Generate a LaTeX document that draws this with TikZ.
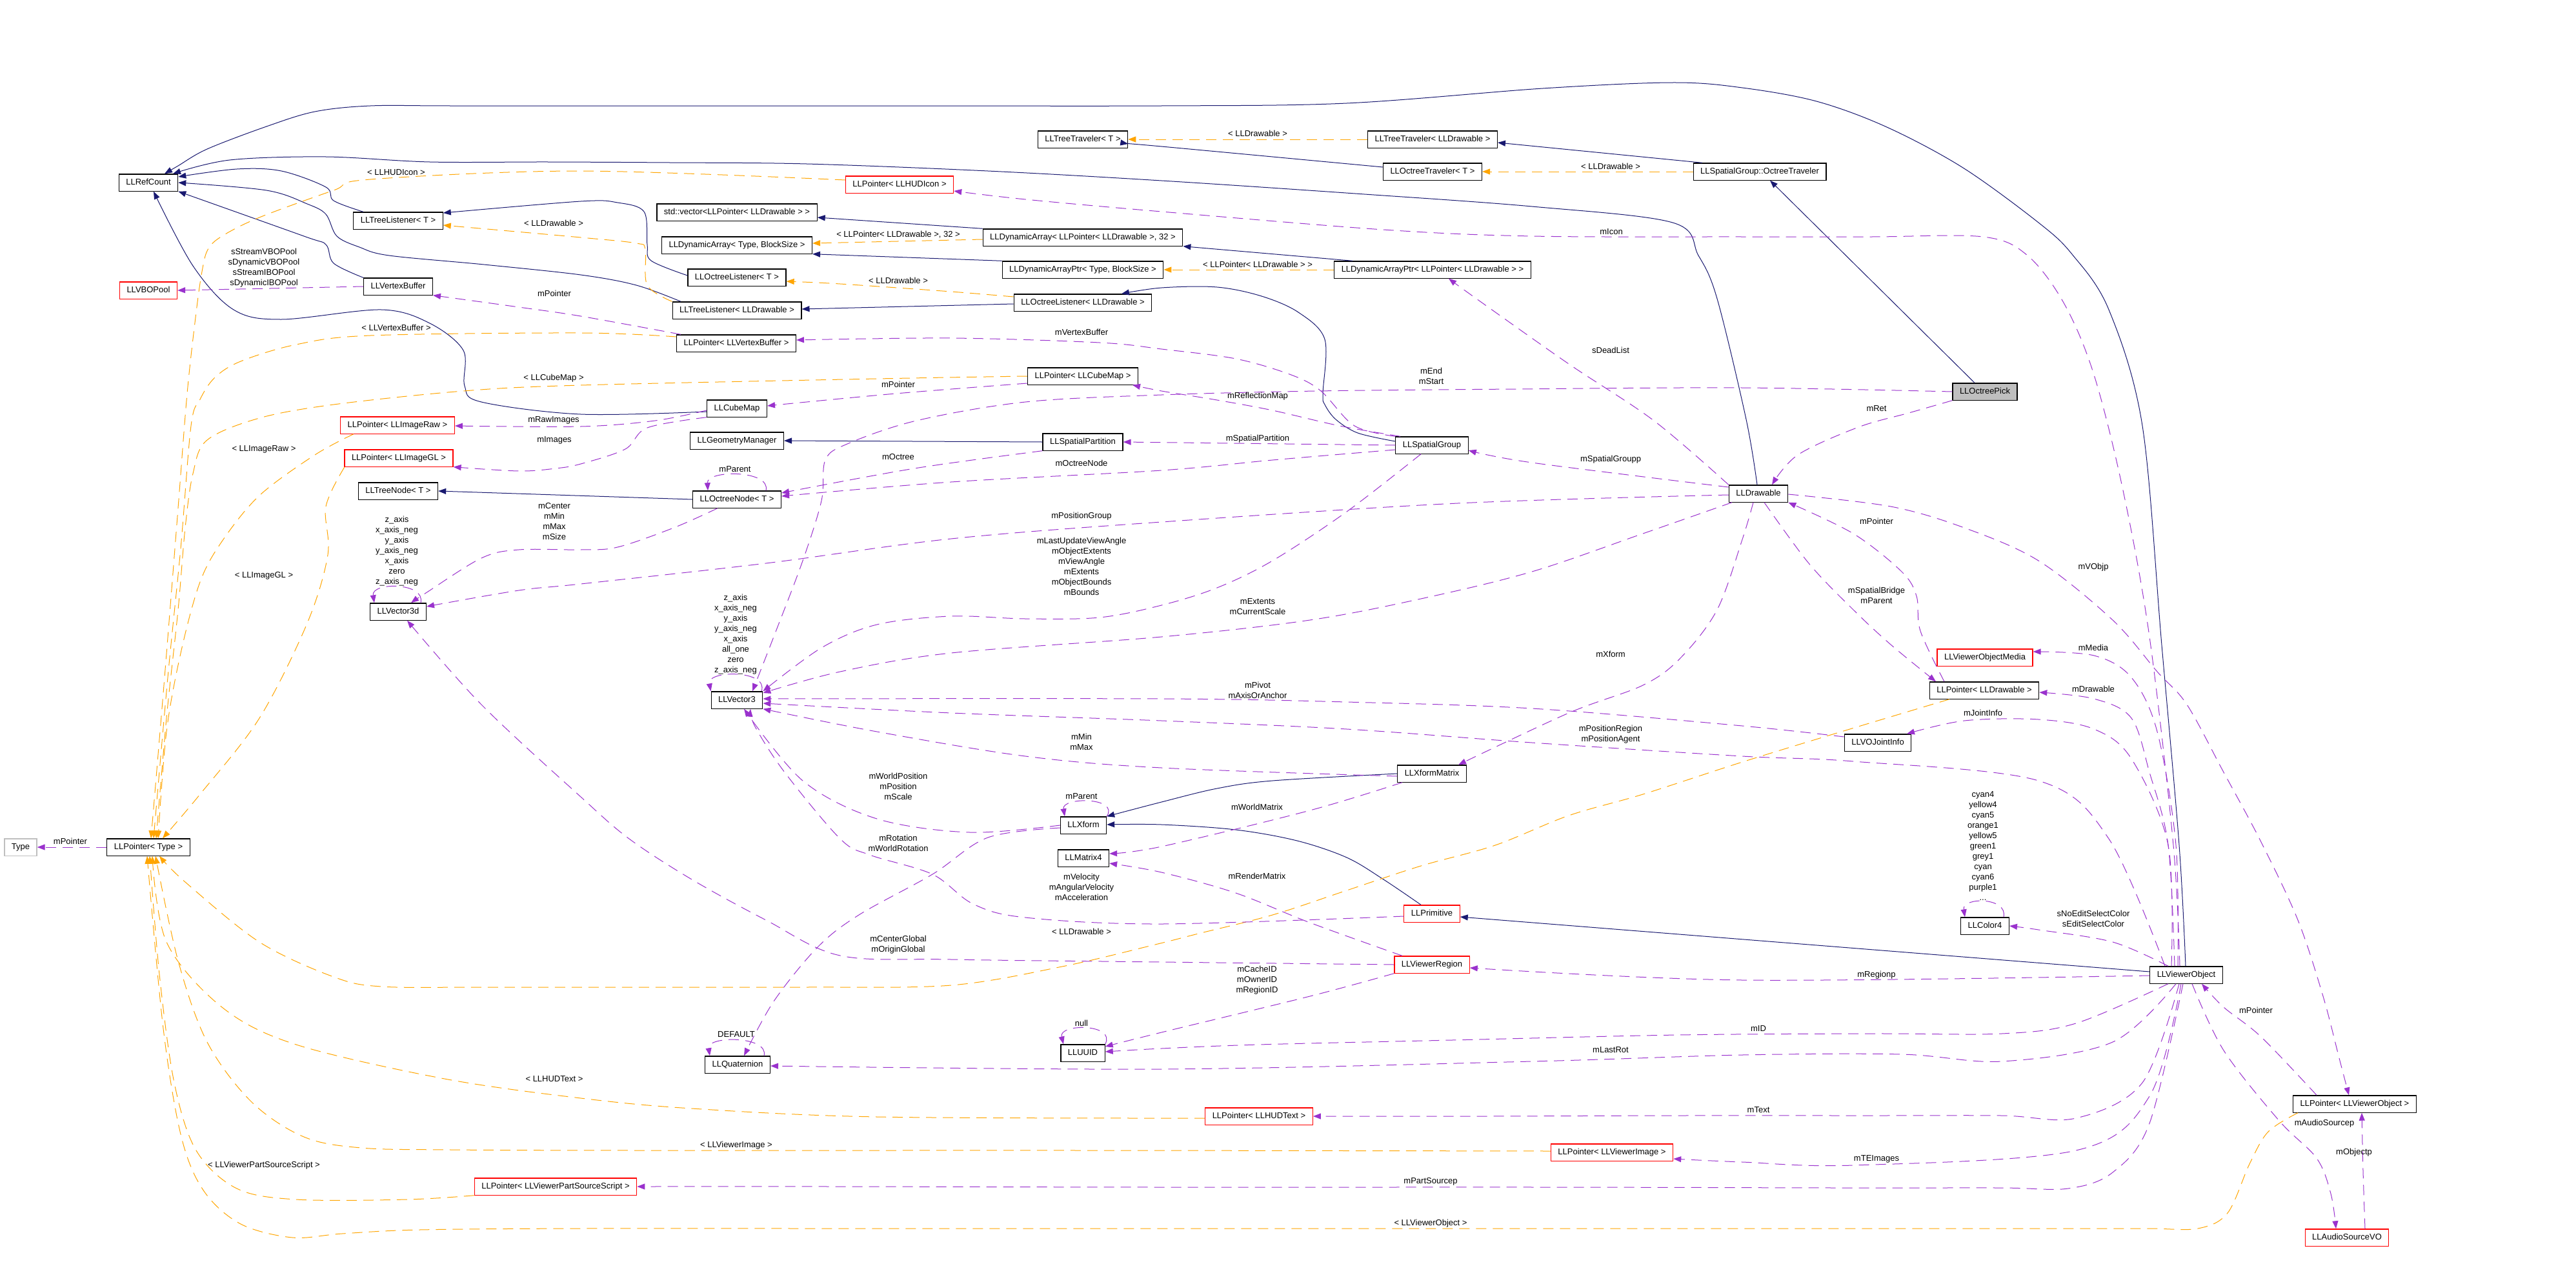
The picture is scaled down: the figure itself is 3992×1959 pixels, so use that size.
\documentclass[tikz,border=0pt]{standalone}
\usepackage{fontspec}
\setmainfont{Liberation Sans}
\usetikzlibrary{arrows.meta}

\definecolor{inhblue}{HTML}{191970}
\definecolor{usepurple}{HTML}{9A32CD}
\definecolor{tmplorange}{HTML}{FFA500}
\definecolor{undocred}{HTML}{FF0000}
\definecolor{focusgray}{HTML}{BFBFBF}

\begin{document}
\begin{tikzpicture}[
  x=1pt, y=-1pt,
  every node/.style={font=\fontsize{13}{16}\selectfont},
  cls/.style={draw=black, line width=1.2pt, inner xsep=11pt, inner ysep=7pt, text height=9.4pt, text depth=2.8pt},
  clsred/.style={cls, draw=undocred},
  clsgray/.style={cls, draw=focusgray},
  clsfocus/.style={cls, fill=focusgray},
  lbl/.style={align=center, inner sep=0pt},
  inh/.style={draw=inhblue, line width=1pt, -{Triangle[length=12pt,width=9pt]}, smooth, tension=0.55},
  use/.style={draw=usepurple, line width=1pt, dash pattern=on 16pt off 10pt, -{Triangle[length=12pt,width=9pt]}, smooth, tension=0.55},
  tmpl/.style={use, draw=tmplorange},
]
\useasboundingbox (0,0) rectangle (3992,1959);

% classes, column by column
\node[clsgray] (type) at (32,1313) {Type};
\node[cls] (refcount) at (230,283) {LLRefCount};
\node[clsred] (vbopool) at (230,450) {LLVBOPool};
\node[cls] (ptrtype) at (230,1313) {LLPointer< Type >};

\node[cls] (treelistenerT) at (617,342) {LLTreeListener< T >};
\node[cls] (vertexbuffer) at (617,444) {LLVertexBuffer};
\node[clsred] (ptrimageraw) at (616,659) {LLPointer< LLImageRaw >};
\node[clsred] (ptrimagegl) at (618,710) {LLPointer< LLImageGL >};
\node[cls] (treenodeT) at (617,761) {LLTreeNode< T >};
\node[cls] (vector3d) at (617,948) {LLVector3d};
\node[clsred] (ptrviewerpss) at (861,1839) {LLPointer< LLViewerPartSourceScript >};

\node[clsred] (ptrhudicon) at (1394,286) {LLPointer< LLHUDIcon >};
\node[cls] (stdvector) at (1142,329) {std::vector<LLPointer< LLDrawable > >};
\node[cls] (dynarrayT) at (1142,380) {LLDynamicArray< Type, BlockSize >};
\node[cls] (octlistenerT) at (1142,430) {LLOctreeListener< T >};
\node[cls] (treelistenerdrw) at (1142,481) {LLTreeListener< LLDrawable >};
\node[cls] (ptrvertexbuffer) at (1141,532) {LLPointer< LLVertexBuffer >};
\node[cls] (cubemap) at (1142,633) {LLCubeMap};
\node[cls] (geommgr) at (1142,683) {LLGeometryManager};
\node[cls] (octnodeT) at (1142,774) {LLOctreeNode< T >};
\node[cls] (vector3) at (1142,1085) {LLVector3};
\node[cls] (quaternion) at (1143,1650) {LLQuaternion};

\node[cls] (treetravT) at (1678,216) {LLTreeTraveler< T >};
\node[cls] (dynarraydrw) at (1678,368) {LLDynamicArray< LLPointer< LLDrawable >, 32 >};
\node[cls] (dynarrayptrT) at (1678,418) {LLDynamicArrayPtr< Type, BlockSize >};
\node[cls] (octlistenerdrw) at (1678,469) {LLOctreeListener< LLDrawable >};
\node[cls] (ptrcubemap) at (1678,583) {LLPointer< LLCubeMap >};
\node[cls] (spatialpartition) at (1678,685) {LLSpatialPartition};
\node[cls] (xform) at (1679,1279) {LLXform};
\node[cls] (matrix4) at (1679,1330) {LLMatrix4};
\node[cls] (uuid) at (1678,1632) {LLUUID};
\node[clsred] (ptrhudtext) at (1951,1730) {LLPointer< LLHUDText >};

\node[cls] (treetravdrw) at (2220,216) {LLTreeTraveler< LLDrawable >};
\node[cls] (octtravT) at (2220,266) {LLOctreeTraveler< T >};
\node[cls] (dynarrayptrdrw) at (2220,418) {LLDynamicArrayPtr< LLPointer< LLDrawable > >};
\node[cls] (spatialgroup) at (2219,690) {LLSpatialGroup};
\node[cls] (xformmatrix) at (2219,1199) {LLXformMatrix};
\node[clsred] (primitive) at (2219,1416) {LLPrimitive};
\node[clsred] (viewerregion) at (2219,1495) {LLViewerRegion};
\node[clsred] (ptrviewerimage) at (2498,1786) {LLPointer< LLViewerImage >};

\node[cls] (sgocttrav) at (2727,266) {LLSpatialGroup::OctreeTraveler};
\node[cls] (drawable) at (2725,765) {LLDrawable};
\node[cls] (vojointinfo) at (2910,1151) {LLVOJointInfo};
\node[clsfocus] (octreepick) at (3076,607) {LLOctreePick};
\node[clsred] (viewerobjmedia) at (3076,1019) {LLViewerObjectMedia};
\node[cls] (ptrdrawable) at (3075,1070) {LLPointer< LLDrawable >};
\node[cls] (color4) at (3076,1435) {LLColor4};
\node[cls] (viewerobject) at (3388,1511) {LLViewerObject};
\node[cls] (ptrviewerobject) at (3649,1711) {LLPointer< LLViewerObject >};
\node[clsred] (audiosourcevo) at (3637,1918) {LLAudioSourceVO};

% inheritance
\draw[inh] plot coordinates {(3387,0 |- viewerobject.north) (3377,1310) (3350,1000) (3320,660) (3268,480) (3211,394) (3159,345) (3042,260) (2924,197) (2815,157) (2700,136) (2592,128) (2391,137) (2087,160) (1800,164) (1400,164) (1000,164) (700,164) (574,164) (488,173) (413,196) (321,231) (276,257) (255,0 |- refcount.north)};
\draw[inh] plot coordinates {(2723,0 |- drawable.north) (2706,650) (2661,463) (2632,396) (2592,345) (2374,320) (2100,300) (1800,280) (1531,265) (1250,254) (1038,252) (850,251) (666,251) (505,243) (356,248) (268,0 |- refcount.north)};
\draw[inh] plot coordinates {(563,0 |- treelistenerT.north) (517,311) (505,290) (436,265) (367,262) (refcount.east |- 0,274)};
\draw[inh] plot coordinates {(1055,0 |- treelistenerdrw.north) (986,442) (900,426) (750,410) (603,396) (557,383) (522,366) (505,332) (476,316) (413,295) (refcount.east)};
\draw[inh] plot coordinates {(vertexbuffer.north west) (517,408) (505,379) (471,366) (refcount.south east)};
\draw[inh] plot coordinates {(cubemap.west |- 0,638) (900,642) (746,623) (720,598) (718,543) (666,501) (591,480) (436,495) (362,480) (299,412) (238,0 |- refcount.south)};
\draw[inh] plot coordinates {(octlistenerT.west |- 0,427) (1009,404) (1003,379) (998,328) (957,314) (900,312) (treelistenerT.east |- 0,330)};
\draw[inh] (octlistenerdrw.west |- 0,471) -- (treelistenerdrw.east |- 0,479);
\draw[inh] plot coordinates {(spatialgroup.west |- 0,684) (2104,671) (2070,650) (2053,627) (2050,610) (2053,526) (2012,484) (1955,459) (1886,445) (1800,446) (1738,0 |- octlistenerdrw.north)};
\draw[inh] (dynarraydrw.north west) -- (stdvector.east |- 0,337);
\draw[inh] (dynarrayptrT.north west) -- (dynarrayT.south east);
\draw[inh] (2096,0 |- dynarrayptrdrw.north) -- (dynarraydrw.south east);
\draw[inh] plot coordinates {(octtravT.west |- 0,259) (1800,227) (treetravT.east |- 0,223)};
\draw[inh] (2638,0 |- sgocttrav.north) -- (treetravdrw.east |- 0,221);
\draw[inh] (3060,0 |- octreepick.north) -- (2743,0 |- sgocttrav.south);
\draw[inh] (spatialpartition.west) -- (geommgr.east);
\draw[inh] (octnodeT.west) -- (treenodeT.east);
\draw[inh] plot coordinates {(xformmatrix.west) (1972,1210) (1886,1222) (1800,1243) (xform.north east)};
\draw[inh] plot coordinates {(2202,0 |- primitive.north) (2144,1363) (2087,1329) (2010,1303) (1915,1286) (1800,1278) (xform.east |- 0,1278)};
\draw[inh] (viewerobject.west |- 0,1506) -- (primitive.east |- 0,1421);

% template instances
\draw[tmpl] plot coordinates {(ptrhudicon.west |- 0,279) (900,265) (574,278) (517,295) (402,337) (344,366) (322,387) (313,421) (304,484) (290,610) (275,800) (255,1050) (234,0 |- ptrtype.north)};
\draw[tmpl] plot coordinates {(ptrvertexbuffer.west |- 0,522) (900,516) (574,520) (459,534) (373,560) (333,585) (310,619) (296,660) (280,850) (260,1050) (238,0 |- ptrtype.north)};
\draw[tmpl] plot coordinates {(ptrcubemap.west |- 0,583) (1359,587) (900,597) (718,606) (517,627) (402,648) (321,682) (299,734) (287,818) (276,945) (258,1113) (242,0 |- ptrtype.north)};
\draw[tmpl] plot coordinates {(548,0 |- ptrimageraw.south) (488,705) (402,768) (344,839) (310,902) (281,1008) (258,1134) (245,0 |- ptrtype.north)};
\draw[tmpl] plot coordinates {(534,0 |- ptrimagegl.south) (505,785) (508,860) (476,966) (402,1113) (310,1231) (252,0 |- ptrtype.north)};
\draw[tmpl] plot coordinates {(3021,0 |- ptrdrawable.south) (2860,1132) (2700,1181) (2546,1231) (2431,1264) (2317,1310) (2202,1342) (2087,1380) (1972,1418) (1857,1447) (1790,1464) (1646,1498) (1474,1527) (1250,1530) (1000,1530) (750,1530) (591,1529) (517,1514) (402,1460) (287,1367) (247,0 |- ptrtype.south)};
\draw[tmpl] plot coordinates {(ptrhudtext.west |- 0,1733) (1359,1731) (1072,1718) (900,1702) (689,1672) (459,1619) (344,1561) (258,1460) (236,0 |- ptrtype.south)};
\draw[tmpl] plot coordinates {(ptrviewerimage.west |- 0,1784) (1700,1783) (1000,1783) (700,1782) (560,1779) (471,1762) (390,1708) (321,1615) (276,1489) (241,0 |- ptrtype.south)};
\draw[tmpl] plot coordinates {(ptrviewerpss.south west) (631,1859) (459,1859) (367,1842) (304,1783) (270,1678) (247,1510) (232,0 |- ptrtype.south)};
\draw[tmpl] plot coordinates {(3561,0 |- ptrviewerobject.south) (3515,1754) (3486,1804) (3452,1880) (3406,1904) (3330,1904) (3200,1904) (2950,1904) (2500,1904) (1900,1904) (1300,1904) (900,1904) (650,1906) (530,1912) (453,1918) (373,1897) (316,1846) (281,1762) (253,1594) (228,0 |- ptrtype.south)};
\draw[tmpl] plot coordinates {(treelistenerdrw.north west) (1003,442) (1000,387) (986,377) (900,368) (treelistenerT.east |- 0,349)};
\draw[tmpl] (dynarraydrw.west |- 0,371) -- (dynarrayT.east |- 0,377);
\draw[tmpl] plot coordinates {(octlistenerdrw.west |- 0,460) (1474,452) (1302,440) (octlistenerT.east |- 0,436)};
\draw[tmpl] (treetravdrw.west) -- (treetravT.east);
\draw[tmpl] (sgocttrav.west) -- (octtravT.east);
\draw[tmpl] (dynarrayptrdrw.west) -- (dynarrayptrT.east);

% members
\draw[use] (ptrtype.west) -- (type.east);
\draw[use] (vertexbuffer.west) -- (vbopool.east);
\draw[use] plot coordinates {(1055,0 |- ptrvertexbuffer.north) (900,490) (804,476) (vertexbuffer.south east)};
\draw[use] plot coordinates {(ptrcubemap.west |- 0,594) (1388,610) (cubemap.east |- 0,629)};
\draw[use] plot coordinates {(3378,0 |- viewerobject.north) (3368,1310) (3331,987) (3290,760) (3245,581) (3199,471) (3142,396) (3073,367) (2900,367) (2700,367) (2374,366) (2144,356) (1800,328) (1589,309) (ptrhudicon.east |- 0,296)};
\draw[use] plot coordinates {(spatialgroup.north west) (2099,660) (2047,606) (2001,581) (1915,556) (1800,541) (1704,531) (1474,524) (ptrvertexbuffer.east |- 0,527)};
\draw[use] plot coordinates {(2170,0 |- spatialgroup.north) (2076,660) (1972,636) (1886,620) (1800,606) (1755,0 |- ptrcubemap.south)};
\draw[use] plot coordinates {(octreepick.west) (2700,601) (2350,603) (2041,606) (1800,612) (1589,623) (1420,652) (1313,688) (1279,713) (1273,776) (1244,869) (1199,987) (1166,0 |- vector3.north)};
\draw[use] plot coordinates {(cubemap.west |- 0,636) (1015,652) (900,661) (ptrimageraw.east |- 0,660)};
\draw[use] plot coordinates {(cubemap.south west) (1003,663) (969,696) (900,719) (861,726) (804,730) (ptrimagegl.south east)};
\draw[use] plot coordinates {(drawable.north west) (2563,652) (2431,564) (2288,463) (2245,0 |- dynarrayptrdrw.south)};
\draw[use] (spatialgroup.west) -- (spatialpartition.east);
\draw[use] plot coordinates {(spatialgroup.west |- 0,697) (1972,713) (1800,729) (1474,747) (octnodeT.east |- 0,769)};
\draw[use] plot coordinates {(spatialpartition.south west) (1417,726) (octnodeT.east |- 0,764)};
\draw[use] plot coordinates {(1112,0 |- octnodeT.south) (1044,818) (957,848) (900,852) (804,852) (746,865) (660,919) (637,0 |- vector3d.north)};
\draw[use] plot coordinates {(drawable.west |- 0,755) (2374,717) (spatialgroup.east |- 0,698)};
\draw[use] plot coordinates {(drawable.west |- 0,767) (2259,780) (1800,809) (1474,835) (1187,873) (900,905) (804,915) (vector3d.east |- 0,940)};
\draw[use] plot coordinates {(2202,0 |- spatialgroup.south) (2087,793) (1972,869) (1886,911) (1800,938) (1704,957) (1589,959) (1474,955) (1359,968) (1273,1004) (vector3.north east)};
\draw[use] plot coordinates {(2684,0 |- drawable.south) (2546,827) (2374,886) (2202,928) (2030,961) (1800,987) (1474,1012) (1302,1041) (vector3.east |- 0,1074)};
\draw[use] plot coordinates {(vojointinfo.west |- 0,1142) (2700,1125) (2374,1098) (2087,1088) (1800,1083) (vector3.east |- 0,1083)};
\draw[use] plot coordinates {(3355,0 |- viewerobject.north) (3268,1300) (3159,1210) (2872,1180) (2700,1172) (2374,1151) (2087,1130) (1800,1117) (1474,1105) (vector3.east |- 0,1090)};
\draw[use] plot coordinates {(xformmatrix.west |- 0,1203) (1800,1190) (1589,1172) (1359,1134) (vector3.south east)};
\draw[use] plot coordinates {(xform.west) (1503,1290) (1359,1269) (1244,1210) (1153,0 |- vector3.south)};
\draw[use] plot coordinates {(xform.west |- 0,1283) (1531,1298) (1445,1355) (1331,1418) (1267,1468) (1199,1552) (1153,0 |- quaternion.north)};
\draw[use] plot coordinates {(primitive.west |- 0,1420) (1800,1432) (1589,1422) (1508,1401) (1445,1355) (1348,1325) (1302,1300) (1216,1197) (1170,1126) (1163,0 |- vector3.south)};
\draw[use] plot coordinates {(viewerregion.west) (1800,1491) (1474,1487) (1302,1481) (1187,1426) (1072,1363) (975,1300) (900,1235) (746,1092) (631,0 |- vector3d.south)};
\draw[use] plot coordinates {(2173,0 |- xformmatrix.south) (2030,1256) (1800,1312) (matrix4.east |- 0,1323)};
\draw[use] plot coordinates {(2173,0 |- viewerregion.north) (2030,1430) (1915,1384) (1800,1352) (matrix4.east |- 0,1338)};
\draw[use] plot coordinates {(viewerregion.south west) (2030,1544) (1800,1600) (uuid.east |- 0,1622)};
\draw[use] plot coordinates {(3360,0 |- viewerobject.south) (3217,1586) (3102,1602) (2900,1602) (2600,1604) (2250,1612) (1950,1619) (1800,1625) (uuid.east |- 0,1630)};
\draw[use] plot coordinates {(3372,0 |- viewerobject.south) (3274,1615) (3102,1645) (2947,1634) (2700,1635) (2374,1645) (1800,1657) (quaternion.east |- 0,1652)};
\draw[use] plot coordinates {(viewerobject.west |- 0,1512) (2700,1519) (viewerregion.east |- 0,1500)};
\draw[use] plot coordinates {(3360,0 |- viewerobject.north) (3274,1460) (3159,1441) (color4.east)};
\draw[use] plot coordinates {(3377,0 |- viewerobject.south) (3320,1678) (3217,1733) (3102,1729) (2900,1729) (2600,1729) (2300,1730) (ptrhudtext.east)};
\draw[use] plot coordinates {(3380,0 |- viewerobject.south) (3331,1699) (3217,1783) (2872,1806) (2700,1801) (ptrviewerimage.east |- 0,1796)};
\draw[use] plot coordinates {(3383,0 |- viewerobject.south) (3331,1741) (3274,1817) (3205,1842) (3100,1841) (2850,1841) (2400,1840) (1800,1840) (1300,1839) (ptrviewerpss.east)};
\draw[use] plot coordinates {(3370,0 |- viewerobject.north) (3360,1310) (3331,1197) (3303,1113) (3245,1083) (ptrdrawable.east |- 0,1073)};
\draw[use] plot coordinates {(3375,0 |- viewerobject.north) (3372,1310) (3343,1134) (3303,1050) (3245,1016) (viewerobjmedia.east |- 0,1010)};
\draw[use] plot coordinates {(3365,0 |- viewerobject.north) (3360,1310) (3303,1176) (3245,1130) (3159,1115) (3044,1117) (2955,0 |- vojointinfo.north)};
\draw[use] plot coordinates {(3013,0 |- ptrdrawable.north) (2976,978) (2970,924) (2947,886) (2872,827) (drawable.south east)};
\draw[use] plot coordinates {(2734,0 |- drawable.south) (2803,873) (2872,945) (2930,999) (3000,0 |- ptrdrawable.north)};
\draw[use] plot coordinates {(2717,0 |- drawable.south) (2700,836) (2661,945) (2604,1020) (2546,1062) (2431,1105) (2260,0 |- xformmatrix.north)};
\draw[use] plot coordinates {(drawable.east |- 0,766) (2930,785) (3044,818) (3159,869) (3274,961) (3343,1041) (3389,1092) (3446,1197) (3504,1305) (3561,1426) (3600,1544) (3625,1640) (3640,0 |- ptrviewerobject.north)};
\draw[use] plot coordinates {(3590,0 |- ptrviewerobject.north) (3504,1607) (3446,1561) (3412,0 |- viewerobject.south)};
\draw[use] plot coordinates {(3397,0 |- viewerobject.south) (3446,1628) (3532,1737) (3590,1795) (3612,1850) (3620,0 |- audiosourcevo.north)};
\draw[use] plot coordinates {(3665,0 |- audiosourcevo.north) (3662,1815) (3660,0 |- ptrviewerobject.south)};
\draw[use] plot coordinates {(octreepick.south west) (2958,640) (2880,662) (2786,705) (2746,0 |- drawable.north)};

% self references
\draw[use] (1187,0 |- octnodeT.north) .. controls (1195,728) and (1095,728) .. (1097,0 |- octnodeT.north);
\draw[use] (1180,0 |- vector3.north) .. controls (1192,1038) and (1095,1038) .. (vector3.north west);
\draw[use] (652,0 |- vector3d.north) .. controls (660,902) and (575,902) .. (580,0 |- vector3d.north);
\draw[use] (xform.north east) .. controls (1735,1235) and (1645,1235) .. (1650,0 |- xform.north);
\draw[use] (1184,0 |- quaternion.north) .. controls (1192,1605) and (1095,1605) .. (1100,0 |- quaternion.north);
\draw[use] (uuid.north east) .. controls (1730,1586) and (1640,1586) .. (1648,0 |- uuid.north);
\draw[use] (3105,0 |- color4.north) .. controls (3112,1390) and (3040,1390) .. (3045,0 |- color4.north);

% edge labels
\node[lbl] (ltypeptr) at (109,1304) {mPointer};
\node[lbl] (lvbo) at (409,415) {sStreamVBOPool\\sDynamicVBOPool\\sStreamIBOPool\\sDynamicIBOPool};
\node[lbl] (lhudicon) at (614,267) {< LLHUDIcon >};
\node[lbl] (ldrwTL) at (858,346) {< LLDrawable >};
\node[lbl] (lptr32) at (1392,364) {< LLPointer< LLDrawable >, 32 >};
\node[lbl] (ldrwOL) at (1392,435) {< LLDrawable >};
\node[lbl] (lvbptr) at (859,455) {mPointer};
\node[lbl] (lvbtmpl) at (614,508) {< LLVertexBuffer >};
\node[lbl] (lvbuf) at (1676,515) {mVertexBuffer};
\node[lbl] (lcubetmpl) at (858,586) {< LLCubeMap >};
\node[lbl] (lcubeptr) at (1392,596) {mPointer};
\node[lbl] (lrawimg) at (858,651) {mRawImages};
\node[lbl] (limages) at (859,682) {mImages};
\node[lbl] (lrawtmpl) at (409,696) {< LLImageRaw >};
\node[lbl] (lgltmpl) at (409,892) {< LLImageGL >};
\node[lbl] (lcenter) at (859,808) {mCenter\\mMin\\mMax\\mSize};
\node[lbl] (lv3dloop) at (615,854) {z\_axis\\x\_axis\_neg\\y\_axis\\y\_axis\_neg\\x\_axis\\zero\\z\_axis\_neg};
\node[lbl] (loctree) at (1392,708) {mOctree};
\node[lbl] (loctnode) at (1676,718) {mOctreeNode};
\node[lbl] (lonparent) at (1139,727) {mParent};
\node[lbl] (lposgroup) at (1676,800) {mPositionGroup};
\node[lbl] (lviewangle) at (1676,878) {mLastUpdateViewAngle\\mObjectExtents\\mViewAngle\\mExtents\\mObjectBounds\\mBounds};
\node[lbl] (lv3loop) at (1140,983) {z\_axis\\x\_axis\_neg\\y\_axis\\y\_axis\_neg\\x\_axis\\all\_one\\zero\\z\_axis\_neg};
\node[lbl] (lminmax) at (1676,1150) {mMin\\mMax};
\node[lbl] (lworldpos) at (1392,1219) {mWorldPosition\\mPosition\\mScale};
\node[lbl] (lxparent) at (1676,1234) {mParent};
\node[lbl] (lrotation) at (1392,1307) {mRotation\\mWorldRotation};
\node[lbl] (lvelocity) at (1676,1375) {mVelocity\\mAngularVelocity\\mAcceleration};
\node[lbl] (ldrwptr) at (1676,1444) {< LLDrawable >};
\node[lbl] (lcenterg) at (1392,1464) {mCenterGlobal\\mOriginGlobal};
\node[lbl] (lnull) at (1676,1586) {null};
\node[lbl] (ldefault) at (1141,1603) {DEFAULT};
\node[lbl] (lhudtext) at (859,1672) {< LLHUDText >};
\node[lbl] (lvimgtmpl) at (1141,1775) {< LLViewerImage >};
\node[lbl] (lpsstmpl) at (409,1806) {< LLViewerPartSourceScript >};
\node[lbl] (ldrwTT) at (1949,207) {< LLDrawable >};
\node[lbl] (ldrwOT) at (2496,258) {< LLDrawable >};
\node[lbl] (licon) at (2497,359) {mIcon};
\node[lbl] (lptrdrw) at (1949,410) {< LLPointer< LLDrawable > >};
\node[lbl] (ldead) at (2496,543) {sDeadList};
\node[lbl] (lendstart) at (2218,583) {mEnd\\mStart};
\node[lbl] (lreflect) at (1949,614) {mReflectionMap};
\node[lbl] (lret) at (2908,633) {mRet};
\node[lbl] (lspart) at (1949,680) {mSpatialPartition};
\node[lbl] (lsgroupp) at (2496,712) {mSpatialGroupp};
\node[lbl] (ldrwpointer) at (2908,808) {mPointer};
\node[lbl] (lvobjp) at (3244,879) {mVObjp};
\node[lbl] (lbridge) at (2908,923) {mSpatialBridge\\mParent};
\node[lbl] (lextents) at (1949,940) {mExtents\\mCurrentScale};
\node[lbl] (lmedia) at (3244,1004) {mMedia};
\node[lbl] (lxform) at (2496,1014) {mXform};
\node[lbl] (ldrawable) at (3244,1068) {mDrawable};
\node[lbl] (lpivot) at (1949,1070) {mPivot\\mAxisOrAnchor};
\node[lbl] (ljoint) at (3073,1105) {mJointInfo};
\node[lbl] (lposregion) at (2496,1138) {mPositionRegion\\mPositionAgent};
\node[lbl] (lworldmat) at (1948,1251) {mWorldMatrix};
\node[lbl] (lcolors) at (3073,1311) {cyan4\\yellow4\\cyan5\\orange1\\yellow5\\green1\\grey1\\cyan\\cyan6\\purple1\\...};
\node[lbl] (lrender) at (1948,1358) {mRenderMatrix};
\node[lbl] (lselcolor) at (3244,1424) {sNoEditSelectColor\\sEditSelectColor};
\node[lbl] (lregionp) at (2908,1511) {mRegionp};
\node[lbl] (lcacheid) at (1948,1519) {mCacheID\\mOwnerID\\mRegionID};
\node[lbl] (lvopointer) at (3496,1566) {mPointer};
\node[lbl] (lid) at (2725,1594) {mID};
\node[lbl] (llastrot) at (2496,1627) {mLastRot};
\node[lbl] (ltext) at (2725,1720) {mText};
\node[lbl] (laudio) at (3602,1741) {mAudioSourcep};
\node[lbl] (lobjectp) at (3648,1786) {mObjectp};
\node[lbl] (lteimages) at (2908,1796) {mTEImages};
\node[lbl] (lpartsrc) at (2217,1831) {mPartSourcep};
\node[lbl] (lvotmpl) at (2217,1896) {< LLViewerObject >};

\end{tikzpicture}
\end{document}
